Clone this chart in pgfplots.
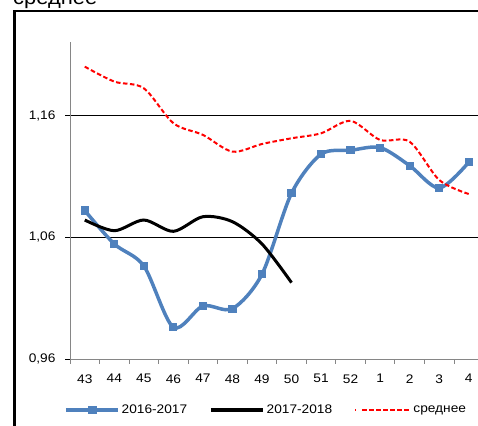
\documentclass[border=0pt]{standalone}
\usepackage{pgfplots}
\pgfplotsset{compat=1.18}
\usepackage{fontspec}
\setmainfont{Liberation Sans}[FakeStretch=1.1]
\definecolor{xlblue}{HTML}{4F81BD}
\definecolor{axgray}{HTML}{868686}
\begin{document}
\begin{tikzpicture}
\path[use as bounding box] (0,0) rectangle (478bp,-426bp);
\clip (0,0) rectangle (478bp,-426bp);
\node[anchor=base west, font=\fontsize{20}{24}\selectfont, inner sep=0pt] at (13bp,-4.5bp) {среднее};
\draw[line width=2.7bp] (14.7bp,-440bp) -- (14.7bp,-11bp) -- (520bp,-11bp);
\begin{axis}[
  at={(70bp,-358.9bp)}, anchor=south west,
  scale only axis, width=413.5bp, height=317.2bp,
  xmin=-0.5, xmax=13.5, ymin=0.96, ymax=1.2208,
  axis lines*=left,
  axis line style={axgray, line width=0.8bp},
  xtick={0,...,13},
  xticklabels={43,44,45,46,47,48,49,50,51,52,1,2,3,4},
  major x tick style={draw=none},
  minor xtick={-0.5,0.5,...,13.5},
  minor x tick style={axgray, line width=0.8bp},
  minor tick length=5bp,
  ytick={0.96,1.06,1.16},
  yticklabels={{0,96},{1,06},{1,16}},
  major y tick style={black, line width=0.8bp},
  major tick length=5bp,
  tick align=outside,
  ymajorgrids,
  grid style={black, line width=0.8bp},
  tick label style={font=\fontsize{12.5}{14}\selectfont},
  yticklabel style={xshift=-6bp},
  xticklabel style={yshift=-7bp},
  legend columns=3,
  legend style={draw=none, fill=none, at={(-0.0145,-0.161)}, anchor=west,
    font=\fontsize{12.5}{14}\selectfont, inner sep=0pt,
    /tikz/every even column/.append style={column sep=20bp}},
  legend cell align=left,
  clip=false,
]
\addplot[xlblue, line width=3.5bp, smooth, mark=square*, mark size=3.6bp, mark options={fill=xlblue, draw=xlblue, line width=0pt},
  legend image code/.code={\draw[line width=3.5bp, xlblue] (0bp,0bp) -- (52bp,0bp); \fill[xlblue] (23.5bp,-2.7bp) rectangle (29bp,2.7bp);}]
coordinates {(0,1.082)(1,1.0545)(2,1.0364)(3,0.986)(4,1.0035)(5,1.0013)(6,1.0296)(7,1.0962)(8,1.1283)(9,1.1315)(10,1.1337)(11,1.1189)(12,1.1005)(13,1.1217)};
\addlegendentry{2016-2017}
\addplot[black, line width=3bp, smooth,
  legend image code/.code={\draw[line width=3.5bp, black] (0bp,0bp) -- (52bp,0bp);}]
coordinates {(0,1.0742)(1,1.0654)(2,1.0742)(3,1.0649)(4,1.0769)(5,1.0728)(6,1.0545)(7,1.0227)};
\addlegendentry{2017-2018}
\addplot[red, line width=2bp, smooth, dash pattern=on 4.5bp off 2.5bp,
  legend image code/.code={\path (0bp,0bp) -- (1bp,0bp); \draw[line width=2.5bp, red, dash pattern=on 4.5bp off 2.5bp] (7bp,0bp) -- (55bp,0bp);}]
coordinates {(0,1.2003)(1,1.188)(2,1.1825)(3,1.1538)(4,1.1442)(5,1.1304)(6,1.1367)(7,1.1414)(8,1.1455)(9,1.1557)(10,1.140)(11,1.1386)(12,1.1071)(13,1.0956)};
\addlegendentry{среднее}
\end{axis}
\end{tikzpicture}
\end{document}
